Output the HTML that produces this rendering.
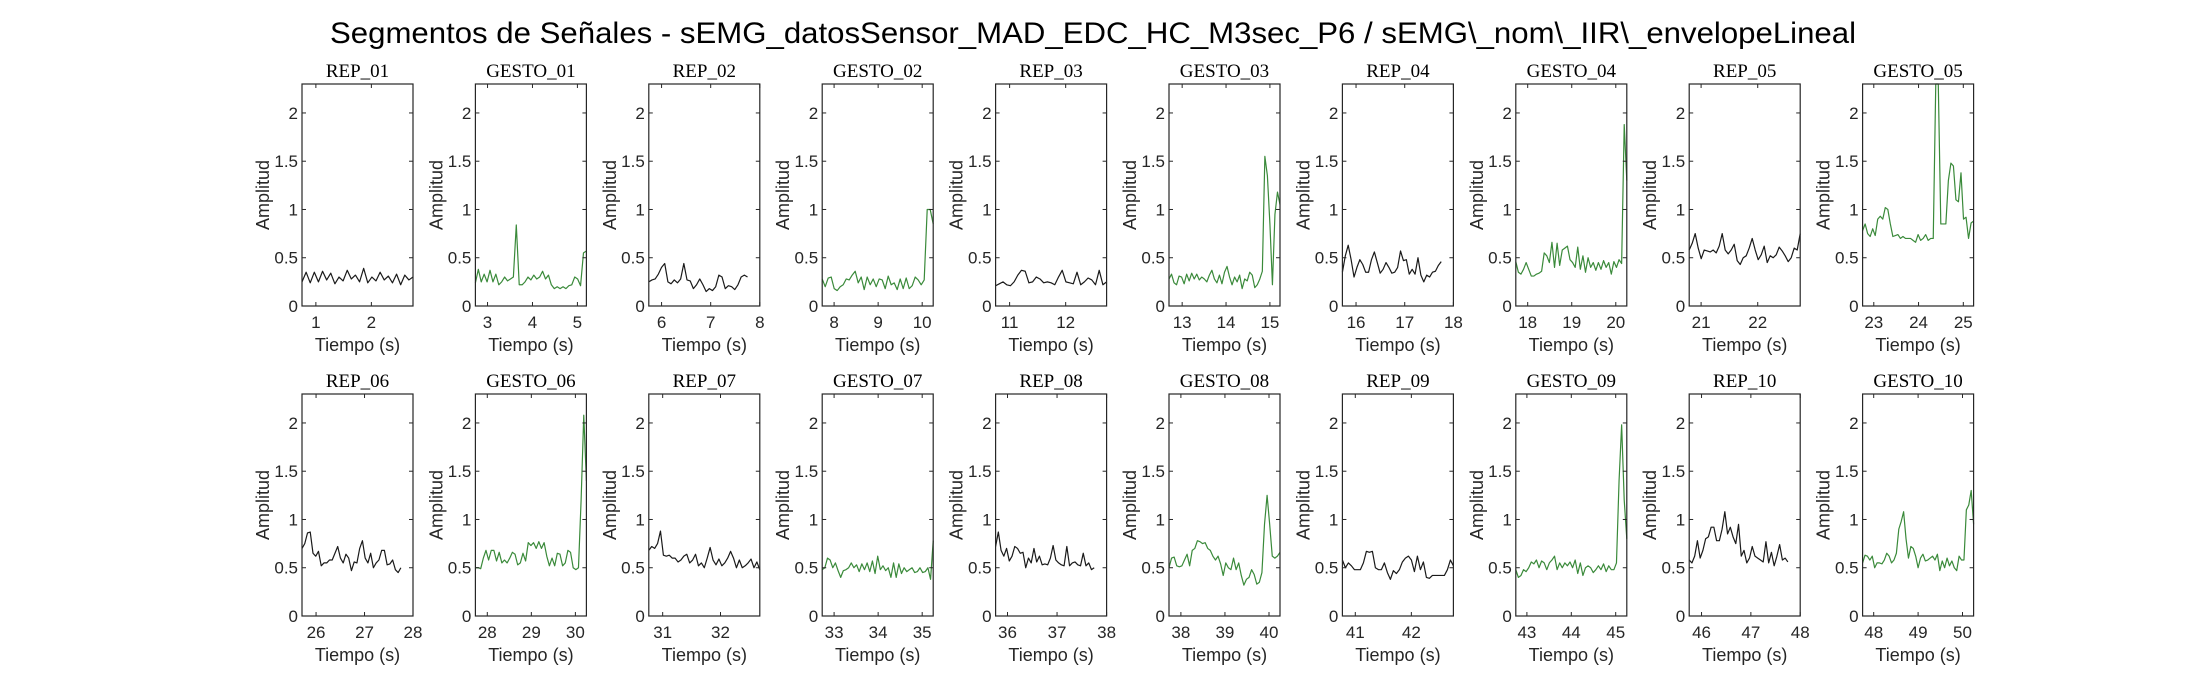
<!DOCTYPE html>
<html><head><meta charset="utf-8">
<style>
html,body{margin:0;padding:0;background:#fff;}
svg{display:block;}
text{font-family:"Liberation Sans",sans-serif;fill:#262626;}
</style></head>
<body>
<svg id="fig" width="2187" height="688" viewBox="0 0 2187 688" xmlns="http://www.w3.org/2000/svg">
<rect width="2187" height="688" fill="#fff"/>
<text x="1093" y="43" font-size="30" text-anchor="middle" textLength="1526" lengthAdjust="spacingAndGlyphs" style="fill:#000">Segmentos de Señales - sEMG_datosSensor_MAD_EDC_HC_M3sec_P6 / sEMG\_nom\_IIR\_envelopeLineal</text>
</svg>
<script>
const panelTitles = ["REP_01","GESTO_01","REP_02","GESTO_02","REP_03","GESTO_03","REP_04","GESTO_04","REP_05","GESTO_05",
"REP_06","GESTO_06","REP_07","GESTO_07","REP_08","GESTO_08","REP_09","GESTO_09","REP_10","GESTO_10"];
const xMins = [0.75,2.73,5.74,7.73,10.75,12.7,15.72,17.73,20.79,22.75,25.71,27.73,30.76,32.73,35.76,37.73,40.77,42.75,45.75,47.75];
const xMaxs = [2.75,5.2,8.0,10.25,12.73,15.23,18.0,20.25,22.75,25.23,28.0,30.25,32.68,35.25,38.0,40.25,42.75,45.25,48.0,50.25];
const tStarts = [0.75,2.73,5.74,7.73,10.75,12.7,15.72,17.73,20.79,22.75,25.71,27.73,30.76,32.73,35.76,37.73,40.77,42.75,45.75,47.75];
const tEnds = [2.75,5.2,7.75,10.25,12.73,15.23,17.75,20.25,22.75,25.23,27.75,30.25,32.68,35.25,37.75,40.25,42.75,45.25,47.75,50.25];
const s01 = [0.25,0.35,0.24,0.35,0.25,0.36,0.27,0.34,0.23,0.30,0.26,0.37,0.28,0.32,0.25,0.39,0.24,0.30,0.26,0.35,0.27,0.31,0.24,0.33,0.22,0.32,0.27,0.30];
const g01 = [0.24,0.38,0.25,0.33,0.25,0.37,0.25,0.33,0.22,0.25,0.30,0.26,0.28,0.30,0.84,0.22,0.22,0.25,0.30,0.27,0.32,0.28,0.30,0.36,0.28,0.32,0.22,0.18,0.20,0.18,0.20,0.18,0.21,0.22,0.30,0.28,0.21,0.55,0.57];
const s02 = [0.25,0.27,0.28,0.33,0.40,0.44,0.25,0.23,0.27,0.24,0.28,0.44,0.27,0.26,0.18,0.22,0.28,0.22,0.15,0.18,0.16,0.20,0.32,0.30,0.18,0.21,0.20,0.17,0.22,0.30,0.32,0.30];
const g02 = [0.28,0.20,0.29,0.30,0.18,0.16,0.20,0.22,0.28,0.27,0.32,0.36,0.24,0.30,0.17,0.30,0.22,0.28,0.20,0.28,0.27,0.18,0.31,0.22,0.24,0.17,0.28,0.18,0.29,0.18,0.21,0.30,0.27,0.22,0.27,1.0,1.0,0.85];
const s03 = [0.21,0.23,0.25,0.22,0.21,0.25,0.32,0.37,0.36,0.24,0.25,0.30,0.28,0.24,0.25,0.24,0.22,0.30,0.37,0.25,0.24,0.23,0.35,0.22,0.25,0.29,0.27,0.22,0.37,0.22,0.25];
const g03 = [0.28,0.33,0.24,0.22,0.31,0.30,0.23,0.33,0.26,0.34,0.28,0.33,0.27,0.30,0.28,0.25,0.32,0.37,0.28,0.24,0.32,0.23,0.35,0.41,0.30,0.22,0.30,0.25,0.32,0.18,0.28,0.26,0.35,0.32,0.19,0.22,0.28,0.36,1.55,1.35,0.85,0.22,0.95,1.18,1.05];
const s04 = [0.35,0.52,0.63,0.48,0.30,0.40,0.48,0.43,0.35,0.35,0.48,0.56,0.45,0.34,0.38,0.45,0.40,0.34,0.35,0.40,0.57,0.47,0.48,0.33,0.38,0.33,0.50,0.32,0.25,0.32,0.30,0.35,0.36,0.42,0.46];
const g04 = [0.46,0.35,0.33,0.38,0.45,0.38,0.31,0.31,0.33,0.34,0.36,0.55,0.52,0.45,0.66,0.40,0.65,0.42,0.58,0.60,0.62,0.48,0.45,0.40,0.61,0.38,0.52,0.35,0.50,0.40,0.45,0.37,0.45,0.38,0.47,0.40,0.45,0.33,0.46,0.40,0.48,0.44,1.88,1.30];
const s05 = [0.58,0.65,0.75,0.60,0.49,0.58,0.57,0.56,0.58,0.55,0.62,0.75,0.58,0.54,0.58,0.64,0.47,0.43,0.50,0.52,0.60,0.70,0.58,0.48,0.53,0.62,0.45,0.52,0.50,0.53,0.61,0.57,0.52,0.46,0.50,0.60,0.58,0.75];
const g05 = [0.78,0.85,0.75,0.72,0.80,0.73,0.90,0.93,0.90,1.02,1.0,0.85,0.72,0.73,0.74,0.70,0.72,0.70,0.70,0.70,0.68,0.66,0.74,0.68,0.70,0.74,0.68,0.70,0.70,2.30,2.30,0.85,0.85,0.85,1.30,1.48,1.45,1.10,1.08,1.38,0.90,0.92,0.70,0.86,0.88];
const s06 = [0.70,0.75,0.86,0.87,0.65,0.62,0.67,0.52,0.55,0.55,0.58,0.58,0.65,0.72,0.60,0.55,0.64,0.60,0.47,0.56,0.55,0.70,0.78,0.60,0.55,0.65,0.50,0.55,0.58,0.68,0.68,0.53,0.54,0.58,0.48,0.45,0.50];
const g06 = [0.50,0.50,0.49,0.60,0.68,0.58,0.68,0.68,0.57,0.66,0.55,0.58,0.55,0.60,0.66,0.64,0.53,0.55,0.65,0.57,0.76,0.73,0.76,0.70,0.77,0.70,0.76,0.62,0.52,0.60,0.52,0.65,0.64,0.52,0.55,0.68,0.66,0.50,0.48,0.50,1.20,2.08,1.40];
const s07 = [0.68,0.72,0.70,0.75,0.88,0.63,0.62,0.63,0.60,0.60,0.56,0.58,0.62,0.64,0.55,0.58,0.64,0.52,0.55,0.50,0.60,0.71,0.58,0.53,0.59,0.52,0.55,0.60,0.67,0.60,0.50,0.58,0.50,0.52,0.55,0.59,0.50,0.56,0.48];
const g07 = [0.48,0.50,0.60,0.58,0.50,0.55,0.47,0.40,0.47,0.48,0.50,0.55,0.50,0.53,0.46,0.54,0.48,0.55,0.46,0.57,0.44,0.62,0.48,0.52,0.47,0.50,0.40,0.55,0.40,0.54,0.44,0.50,0.46,0.48,0.50,0.45,0.46,0.50,0.45,0.46,0.50,0.38,0.78];
const s08 = [0.72,0.87,0.68,0.62,0.70,0.57,0.62,0.72,0.70,0.65,0.66,0.50,0.60,0.55,0.70,0.56,0.62,0.53,0.54,0.53,0.60,0.73,0.58,0.55,0.53,0.52,0.72,0.52,0.55,0.56,0.53,0.52,0.65,0.52,0.55,0.48,0.50];
const g08 = [0.50,0.60,0.61,0.52,0.51,0.52,0.58,0.64,0.52,0.68,0.70,0.78,0.77,0.75,0.76,0.70,0.68,0.62,0.58,0.62,0.54,0.42,0.55,0.50,0.48,0.60,0.48,0.55,0.42,0.32,0.38,0.40,0.48,0.43,0.33,0.35,0.45,0.95,1.25,0.95,0.62,0.60,0.62,0.66];
const s09 = [0.58,0.50,0.55,0.52,0.48,0.48,0.48,0.55,0.67,0.66,0.67,0.50,0.48,0.48,0.55,0.45,0.38,0.47,0.44,0.48,0.56,0.60,0.62,0.58,0.46,0.62,0.48,0.56,0.40,0.39,0.42,0.42,0.42,0.42,0.42,0.48,0.58,0.52];
const g09 = [0.48,0.40,0.42,0.48,0.46,0.50,0.56,0.54,0.58,0.50,0.57,0.55,0.48,0.55,0.58,0.62,0.48,0.55,0.50,0.55,0.52,0.56,0.50,0.58,0.44,0.55,0.42,0.50,0.52,0.50,0.45,0.48,0.52,0.48,0.54,0.46,0.52,0.48,0.48,0.55,1.40,1.98,1.20,0.80];
const s10 = [0.58,0.55,0.62,0.78,0.60,0.68,0.80,0.82,0.92,0.92,0.78,0.78,0.90,1.08,0.85,0.92,0.82,0.75,0.95,0.62,0.68,0.55,0.60,0.72,0.62,0.60,0.58,0.56,0.77,0.55,0.66,0.52,0.62,0.74,0.58,0.60,0.56];
const g10 = [0.55,0.63,0.62,0.58,0.62,0.50,0.55,0.55,0.54,0.58,0.65,0.62,0.55,0.58,0.65,0.90,0.98,1.08,0.80,0.60,0.72,0.70,0.62,0.50,0.60,0.64,0.57,0.58,0.60,0.62,0.58,0.64,0.47,0.57,0.50,0.60,0.52,0.57,0.50,0.47,0.62,0.58,0.58,1.10,1.15,1.30,0.95];
const seriesList = [s01,g01,s02,g02,s03,g03,s04,g04,s05,g05,s06,g06,s07,g07,s08,g08,s09,g09,s10,g10];
const yTicks = [0,0.5,1,1.5,2];
const yTickLabels = ["0","0.5","1","1.5","2"];
const yMax = 2.3;

const NS = "http://www.w3.org/2000/svg";
const svg = document.getElementById("fig");
function mk(tag, attrs, parent){
  const e = document.createElementNS(NS, tag);
  for (const k in attrs) e.setAttribute(k, attrs[k]);
  parent.appendChild(e);
  return e;
}
const W = 111, H = 222, L0 = 302, DX = 173.4;
const rowTops = [84, 394];

panelTitles.forEach((title, i) => {
  const col = i % 10, row = Math.floor(i / 10);
  const left = L0 + col * DX, top = rowTops[row], bottom = top + H;
  const xs = v => left + (v - xMins[i]) / (xMaxs[i] - xMins[i]) * W;
  const ys = v => bottom - v / yMax * H;
  const g = mk("g", {}, svg);
  
  

  const t = mk("text", {x: left + W/2, y: top - 7, "font-size": 19, "text-anchor": "middle", style: "font-family:'Liberation Serif',serif;fill:#000"}, g);
  t.textContent = title;
  
  

  // data line
  const vals = seriesList[i];
  const n = vals.length;
  let d = "";
  vals.forEach((v, k) => {
    const tt = tStarts[i] + (tEnds[i] - tStarts[i]) * k / (n - 1);
    d += (k ? "L" : "M") + xs(tt).toFixed(2) + "," + ys(Math.min(v, yMax)).toFixed(2);
  });
  const isG = title.startsWith("GESTO");
  const p = mk("path", {d: d, fill: "none", stroke: isG ? "#3a8a3a" : "#1a1a1a", "stroke-width": 1.2, "stroke-linejoin": "round"}, g);
  
  

  // y ticks
  yTicks.forEach((v, k) => {
    const y = ys(v);
    mk("line", {x1: left, x2: left + 4, y1: y, y2: y, stroke: "#262626", "stroke-width": 1}, g);
    mk("line", {x1: left + W - 4, x2: left + W, y1: y, y2: y, stroke: "#262626", "stroke-width": 1}, g);
    const lb = mk("text", {x: left - 4, y: y + 6, "font-size": 17, "text-anchor": "end"}, g);
    lb.textContent = yTickLabels[k];
    
    
  });
  // x ticks
  for (let v = Math.ceil(xMins[i] - 1e-6); v <= xMaxs[i] + 1e-6; v++) {
    const x = xs(v);
    mk("line", {x1: x, x2: x, y1: bottom, y2: bottom - 4, stroke: "#262626", "stroke-width": 1}, g);
    mk("line", {x1: x, x2: x, y1: top, y2: top + 4, stroke: "#262626", "stroke-width": 1}, g);
    const lb = mk("text", {x: x, y: bottom + 22, "font-size": 17, "text-anchor": "middle"}, g);
    lb.textContent = String(v);
    
    
  }
  const frame = mk("rect", {x: left, y: top, width: W, height: H, fill: "none", stroke: "#262626", "stroke-width": 1.2}, g);
  
  

  const xl = mk("text", {x: left + W/2, y: bottom + 45, "font-size": 18, "text-anchor": "middle"}, g);
  xl.textContent = "Tiempo (s)";
  
  
  const cx = left - 39, cy = top + H/2;
  const yl = mk("text", {x: cx, y: cy + 6, "font-size": 18, "text-anchor": "middle", transform: "rotate(-90 " + cx + " " + cy + ")"}, g);
  yl.textContent = "Amplitud";
  
  
});
</script>
</body></html>
